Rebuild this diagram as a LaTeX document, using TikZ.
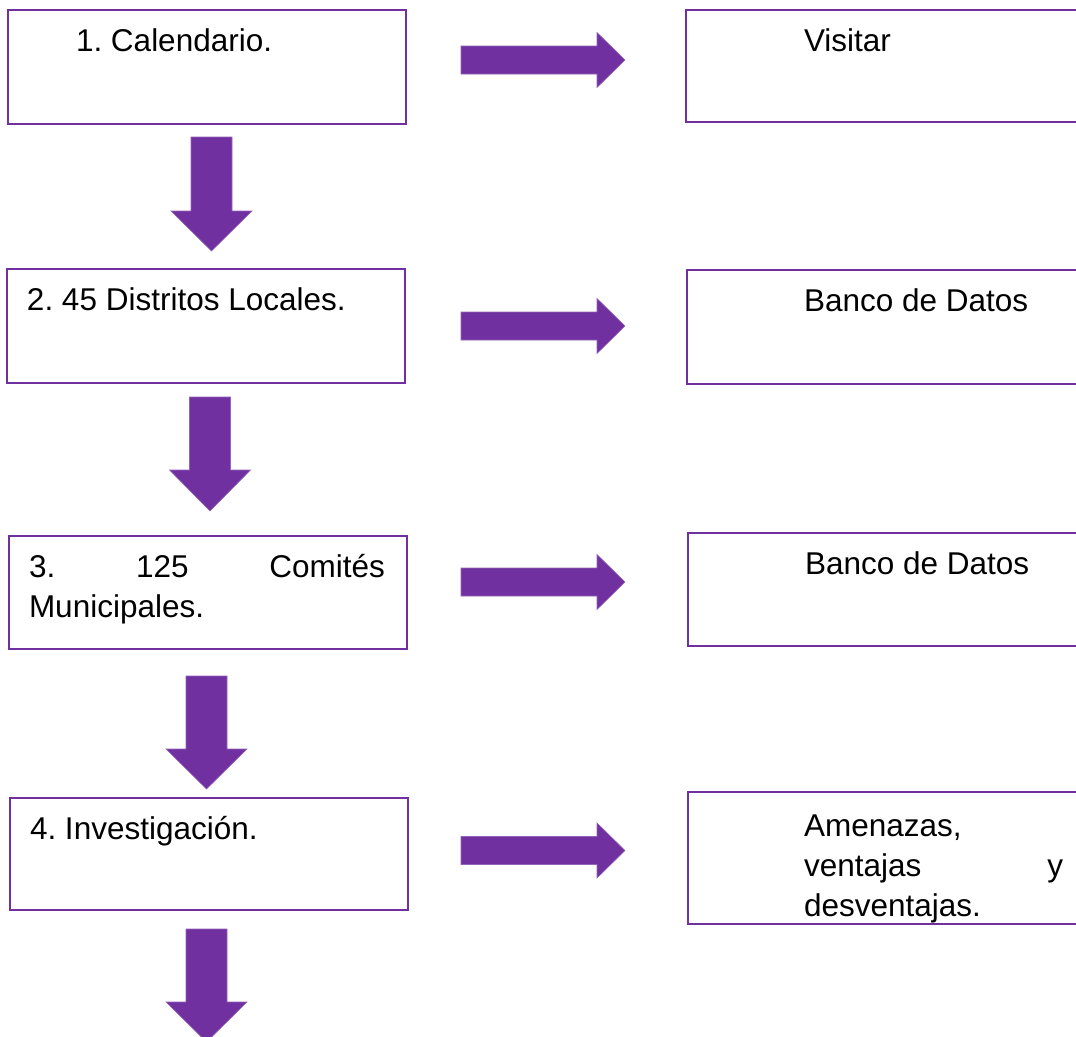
\documentclass[tikz,border=0pt]{standalone}
\usepackage{fontspec}
\setmainfont{Liberation Sans}
\definecolor{purp}{HTML}{7030A0}
\newcommand\rarrow[1]{%
  \filldraw[barrow] (461,#1-14) -- (597,#1-14) -- (597,#1-27.5) -- (625,#1) -- (597,#1+27.5) -- (597,#1+14) -- (461,#1+14) -- cycle;}
\newcommand\darrow[4]{%
  \filldraw[barrow] (#1-20.5,#2) -- (#1+20.5,#2) -- (#1+20.5,#3) -- (#1+40.5,#3) -- (#1,#4) -- (#1-40.5,#3) -- (#1-20.5,#3) -- cycle;}
\frenchspacing
\begin{document}
\frenchspacing
\begin{tikzpicture}[x=1pt,y=-1pt,
  box/.style={draw=purp,line width=2.8pt,inner sep=0pt,outer sep=0pt,fill=white},
  txt/.style={inner sep=0pt,outer sep=0pt,anchor=base west,font=\fontsize{31.5}{40}\selectfont\frenchspacing},
  barrow/.style={fill=purp,draw=purp!75,line width=0.6pt}]
\useasboundingbox[fill=white] (0,0) rectangle (1076,1036);
% left boxes
\node[box,minimum width=398pt,minimum height=114pt] (L1) at (207,67) {};
\node[box,minimum width=398pt,minimum height=114pt] (L2) at (206,326) {};
\node[box,minimum width=398pt,minimum height=113pt] (L3) at (208,592.5) {};
\node[box,minimum width=398pt,minimum height=112pt] (L4) at (209,854) {};
% right boxes
\node[box,minimum width=400pt,minimum height=112pt] (R1) at (886,66) {};
\node[box,minimum width=400pt,minimum height=114pt] (R2) at (887,327) {};
\node[box,minimum width=400pt,minimum height=113pt] (R3) at (888,589.5) {};
\node[box,minimum width=400pt,minimum height=132pt] (R4) at (888,858) {};
% texts
\node[txt] (t1) at (76,51) {1. Calendario.};
\node[txt] (t2) at (27,310) {2. 45 Distritos Locales.};
\node[txt] (t3a) at (29,577) {\hbox to 356pt{3.\hfill 125\hfill Comités}};
\node[txt] (t3b) at (29,617) {Municipales.};
\node[txt] (t4) at (30,839) {4. Investigación.};
\node[txt] (r1) at (804,51) {Visitar};
\node[txt] (r2) at (804,311) {Banco de Datos};
\node[txt] (r3) at (805,574) {Banco de Datos};
\node[txt] (r4a) at (804,836) {Amenazas,};
\node[txt] (r4b) at (804,876) {\hbox to 259pt{ventajas\hfill y}};
\node[txt] (r4c) at (804,916) {desventajas.};
% right block arrows
\rarrow{60}
\rarrow{326}
\rarrow{582}
\rarrow{850.5}
% down block arrows
\darrow{211.5}{137}{211}{251}
\darrow{210}{397}{470}{511}
\darrow{206.5}{676}{749}{789}
\darrow{206.5}{929}{1002}{1042}
\end{tikzpicture}
\end{document}
